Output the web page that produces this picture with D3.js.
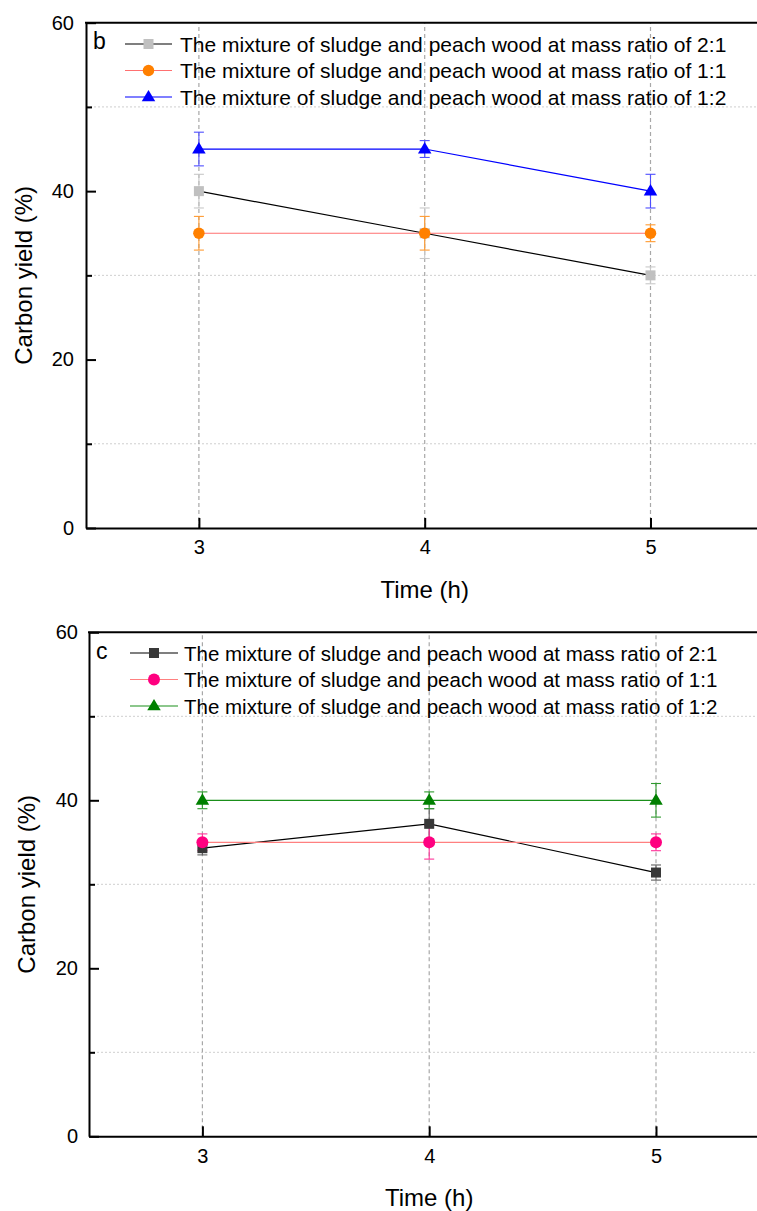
<!DOCTYPE html>
<html>
<head>
<meta charset="utf-8">
<script src="https://cdn.jsdelivr.net/npm/d3@7"></script>
<style>
  html, body { margin: 0; padding: 0; background: #fff; }
  svg { display: block; font-family: Arial, "Liberation Sans", sans-serif; }
</style>
</head>
<body>
<svg id="fig" width="757" height="1211"></svg>
<script>
// Reaction time (h)
const times = [3, 4, 5];
const seriesLabels = [
  "The mixture of sludge and peach wood at mass ratio of 2:1",
  "The mixture of sludge and peach wood at mass ratio of 1:1",
  "The mixture of sludge and peach wood at mass ratio of 1:2"
];
const yTicksMajor = [0, 20, 40, 60];
const yTicksMinor = [10, 30, 50];

// Panel b: carbon yield (%) and error
const bYield21 = [40, 35, 30];
const bErr21 = [2, 3, 1];
const bYield11 = [35, 35, 35];
const bErr11 = [2, 2, 1];
const bYield12 = [45, 45, 40];
const bErr12 = [2, 1, 2];

// Panel c: carbon yield (%) and error
const cYield21 = [34.3, 37.2, 31.4];
const cErr21 = [0.8, 1.8, 0.9];
const cYield11 = [35, 35, 35];
const cErr11 = [1, 2, 1];
const cYield12 = [40, 40, 40];
const cErr12 = [1, 1, 2];

const svg = d3.select("#fig");

const panels = [
  {
    letter: "b", left: 86, right: 763.4, top: 22.7, bottom: 528,
    yPad: 12, xPad: 12, legendFont: 21,
    legend: { lineX0: 125, lineX1: 172, textX: 180, y0: 44, dy: 26.5, letterX: 93, letterY: 49 },
    series: [
      { values: bYield21, errs: bErr21, shape: "square", fill: "#c0c0c0", line: "#000000", err: "#c8c8c8", size: 10 },
      { values: bYield11, errs: bErr11, shape: "circle", fill: "#ff8000", line: "#ff7070", err: "#ff9a30", size: 11.5 },
      { values: bYield12, errs: bErr12, shape: "triangle", fill: "#0000ff", line: "#0000ff", err: "#4d4dff", size: 13.5 }
    ]
  },
  {
    letter: "c", left: 89, right: 769.4, top: 632.3, bottom: 1136.3,
    yPad: 11, xPad: 13, legendFont: 20.5,
    legend: { lineX0: 130, lineX1: 178, textX: 184, y0: 653, dy: 26.5, letterX: 96, letterY: 658.5 },
    series: [
      { values: cYield21, errs: cErr21, shape: "square", fill: "#383838", line: "#000000", err: "#606060", size: 10 },
      { values: cYield11, errs: cErr11, shape: "circle", fill: "#ff0080", line: "#ff8080", err: "#ff3399", size: 12 },
      { values: cYield12, errs: cErr12, shape: "triangle", fill: "#008000", line: "#1a8f1a", err: "#2e9a2e", size: 13.5 }
    ]
  }
];

function marker(g, shape, cx, cy, size, fill) {
  if (shape === "square") {
    g.append("rect").attr("x", cx - size / 2).attr("y", cy - size / 2)
      .attr("width", size).attr("height", size).attr("fill", fill);
  } else if (shape === "circle") {
    g.append("circle").attr("cx", cx).attr("cy", cy).attr("r", size / 2).attr("fill", fill);
  } else {
    const h = size * 0.85;
    g.append("path")
      .attr("d", `M${cx},${cy - h * 0.62}L${cx + size / 2},${cy + h * 0.38}L${cx - size / 2},${cy + h * 0.38}Z`)
      .attr("fill", fill);
  }
}

panels.forEach(p => {
  const x = d3.scaleLinear().domain([2.5, 5.5]).range([p.left, p.right]);
  const y = d3.scaleLinear().domain([0, 60]).range([p.bottom, p.top]);
  const g = svg.append("g");

  // horizontal dotted grid at minor ticks
  g.append("g").selectAll("line").data(yTicksMinor).join("line")
    .attr("x1", p.left).attr("x2", p.right)
    .attr("y1", d => y(d)).attr("y2", d => y(d))
    .attr("stroke", "#cfcfcf").attr("stroke-width", 1).attr("stroke-dasharray", "2,2");

  // vertical dashed grid at major x ticks
  g.append("g").selectAll("line").data(times).join("line")
    .attr("x1", d => x(d)).attr("x2", d => x(d))
    .attr("y1", p.bottom).attr("y2", p.top)
    .attr("stroke", "#a8a8a8").attr("stroke-width", 1.2).attr("stroke-dasharray", "4,3");

  // error bars
  p.series.forEach(s => {
    const eg = g.append("g").attr("stroke", s.err).attr("stroke-width", 1.1).attr("fill", "none");
    times.forEach((t, i) => {
      const cx = x(t), lo = y(s.values[i] - s.errs[i]), hi = y(s.values[i] + s.errs[i]);
      eg.append("line").attr("x1", cx).attr("x2", cx).attr("y1", lo).attr("y2", hi);
      eg.append("line").attr("x1", cx - 5).attr("x2", cx + 5).attr("y1", lo).attr("y2", lo);
      eg.append("line").attr("x1", cx - 5).attr("x2", cx + 5).attr("y1", hi).attr("y2", hi);
    });
  });

  // connecting lines
  const lineGen = d3.line().x((d, i) => x(times[i])).y(d => y(d));
  p.series.forEach(s => {
    g.append("path").datum(s.values).attr("d", lineGen)
      .attr("fill", "none").attr("stroke", s.line).attr("stroke-width", 1.2);
  });

  // markers
  p.series.forEach(s => {
    const mg = g.append("g");
    times.forEach((t, i) => marker(mg, s.shape, x(t), y(s.values[i]), s.size, s.fill));
  });

  // axes
  const yAxis = d3.axisLeft(y).tickValues(yTicksMajor).tickSizeInner(-10).tickSizeOuter(0).tickPadding(p.yPad);
  const yg = g.append("g").attr("transform", `translate(${p.left},0)`).call(yAxis);
  yg.select(".domain").attr("stroke", "#000").attr("stroke-width", 2);
  yg.selectAll(".tick line").attr("stroke", "#000").attr("stroke-width", 2);
  yg.selectAll(".tick text").attr("font-size", 20).attr("fill", "#000")
    .attr("font-family", "Arial, 'Liberation Sans', sans-serif");
  const yMinor = d3.axisLeft(y).tickValues(yTicksMinor).tickSizeInner(-6).tickSizeOuter(0).tickFormat("");
  const ym = g.append("g").attr("transform", `translate(${p.left},0)`).call(yMinor);
  ym.select(".domain").remove();
  ym.selectAll(".tick line").attr("stroke", "#000").attr("stroke-width", 2);

  const xAxis = d3.axisBottom(x).tickValues(times).tickSizeInner(-10).tickSizeOuter(0).tickPadding(p.xPad).tickFormat(d3.format("d"));
  const xg = g.append("g").attr("transform", `translate(0,${p.bottom})`).call(xAxis);
  xg.select(".domain").attr("stroke", "#000").attr("stroke-width", 2);
  xg.selectAll(".tick line").attr("stroke", "#000").attr("stroke-width", 2);
  xg.selectAll(".tick text").attr("font-size", 20).attr("fill", "#000")
    .attr("font-family", "Arial, 'Liberation Sans', sans-serif");

  // top spine
  g.append("line").attr("x1", p.left - 1).attr("x2", p.right).attr("y1", p.top).attr("y2", p.top)
    .attr("stroke", "#000").attr("stroke-width", 2);

  // axis titles
  g.append("text")
    .attr("transform", `translate(${p.left - 54},${(p.top + p.bottom) / 2}) rotate(-90)`)
    .attr("text-anchor", "middle").attr("font-size", 24).attr("fill", "#000")
    .text("Carbon yield (%)");
  g.append("text")
    .attr("x", (p.left + p.right) / 2).attr("y", p.bottom + 70)
    .attr("text-anchor", "middle").attr("font-size", 24).attr("fill", "#000")
    .text("Time (h)");

  // panel letter
  g.append("text").attr("x", p.legend.letterX).attr("y", p.legend.letterY)
    .attr("font-size", 23).attr("fill", "#000").text(p.letter);

  // legend
  p.series.forEach((s, i) => {
    const ly = p.legend.y0 + i * p.legend.dy;
    const lg = g.append("g");
    lg.append("line").attr("x1", p.legend.lineX0).attr("x2", p.legend.lineX1)
      .attr("y1", ly).attr("y2", ly).attr("stroke", s.line).attr("stroke-width", 1.2);
    marker(lg, s.shape, (p.legend.lineX0 + p.legend.lineX1) / 2, ly, s.size, s.fill);
    lg.append("text").attr("x", p.legend.textX).attr("y", ly + 7.5)
      .attr("font-size", p.legendFont).attr("fill", "#000").text(seriesLabels[i]);
  });
});
</script>
</body>
</html>
